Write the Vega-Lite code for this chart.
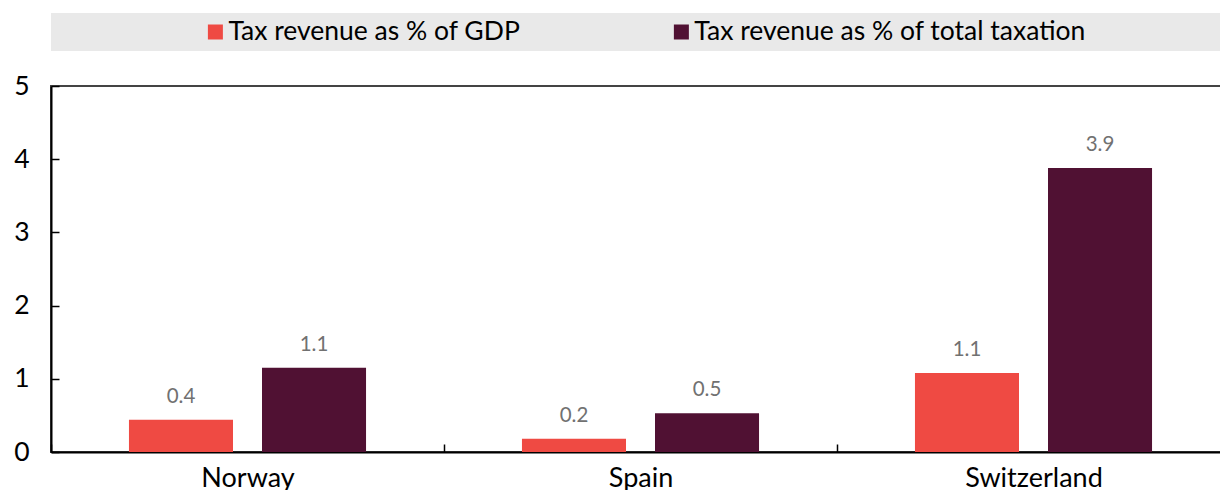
{
  "$schema": "https://vega.github.io/schema/vega-lite/v6.json",
  "padding": {"left": 12, "top": 13, "right": 0, "bottom": 0},
  "background": "white",
  "spacing": 21,
  "config": {
    "font": "Lato",
    "view": {"stroke": null},
    "axis": {"labelFont": "Lato", "titleFont": "Lato"}
  },
  "datasets": {
    "main": [
      {"country": "Norway", "series": "Tax revenue as % of GDP", "value": 0.44},
      {"country": "Norway", "series": "Tax revenue as % of total taxation", "value": 1.15},
      {"country": "Spain", "series": "Tax revenue as % of GDP", "value": 0.18},
      {"country": "Spain", "series": "Tax revenue as % of total taxation", "value": 0.53},
      {"country": "Switzerland", "series": "Tax revenue as % of GDP", "value": 1.08},
      {"country": "Switzerland", "series": "Tax revenue as % of total taxation", "value": 3.88}
    ],
    "legend": [
      {"series": "Tax revenue as % of GDP"},
      {"series": "Tax revenue as % of total taxation"}
    ]
  },
  "vconcat": [
    {
      "width": 1170,
      "height": 38,
      "view": {"fill": "#e9e9e9", "stroke": null},
      "data": {"name": "legend"},
      "layer": [
        {
          "mark": {"type": "point", "shape": "square", "filled": true, "size": 225, "opacity": 1},
          "encoding": {
            "x": {"field": "series", "type": "nominal", "axis": null,
                  "scale": {"type": "point", "padding": 0.7554, "align": 0.2335}},
            "color": {"field": "series", "type": "nominal", "legend": null,
                      "scale": {"domain": ["Tax revenue as % of GDP", "Tax revenue as % of total taxation"], "range": ["#ef4a43", "#501133"]}}
          }
        },
        {
          "mark": {"type": "text", "align": "left", "baseline": "middle", "dx": 13, "fontSize": 26.5, "font": "Lato", "color": "#000000"},
          "encoding": {
            "x": {"field": "series", "type": "nominal", "axis": null,
                  "scale": {"type": "point", "padding": 0.7554, "align": 0.2335}},
            "text": {"field": "series"}
          }
        }
      ]
    },
    {
      "width": 1179,
      "height": 366,
      "view": {"stroke": "#444444", "strokeWidth": 2, "fill": null},
      "data": {"name": "main"},
      "encoding": {
        "x": {"field": "country", "type": "nominal", "sort": ["Norway", "Spain", "Switzerland"],
              "scale": {"paddingInner": 0, "paddingOuter": 0},
              "axis": {"title": null, "labelAngle": 0, "labelFontSize": 27, "labelColor": "#000000",
                       "tickBand": "extent", "tickSize": -8, "tickColor": "#000000", "tickWidth": 1.5,
                       "domainColor": "#000000", "domainWidth": 2, "labelPadding": 21}},
        "xOffset": {"field": "series", "type": "nominal",
                    "sort": ["Tax revenue as % of GDP", "Tax revenue as % of total taxation"],
                    "scale": {"paddingInner": 0.218, "paddingOuter": 0.586}},
        "y": {"field": "value", "type": "quantitative",
              "scale": {"domain": [0, 5], "nice": false},
              "axis": {"title": null, "values": [0, 1, 2, 3, 4, 5], "grid": false,
                       "labelFontSize": 26.5, "labelColor": "#000000",
                       "tickSize": -8, "tickColor": "#000000", "tickWidth": 1.5,
                       "domainColor": "#000000", "domainWidth": 2, "labelPadding": 30}}
      },
      "layer": [
        {
          "mark": {"type": "bar"},
          "encoding": {
            "color": {"field": "series", "type": "nominal", "legend": null,
                      "scale": {"domain": ["Tax revenue as % of GDP", "Tax revenue as % of total taxation"], "range": ["#ef4a43", "#501133"]}}
          }
        },
        {
          "mark": {"type": "text", "baseline": "alphabetic", "dy": -17, "fontSize": 20.5, "font": "Lato", "color": "#717171"},
          "encoding": {
            "text": {"field": "value", "type": "quantitative", "format": ".1f"}
          }
        }
      ]
    }
  ]
}
